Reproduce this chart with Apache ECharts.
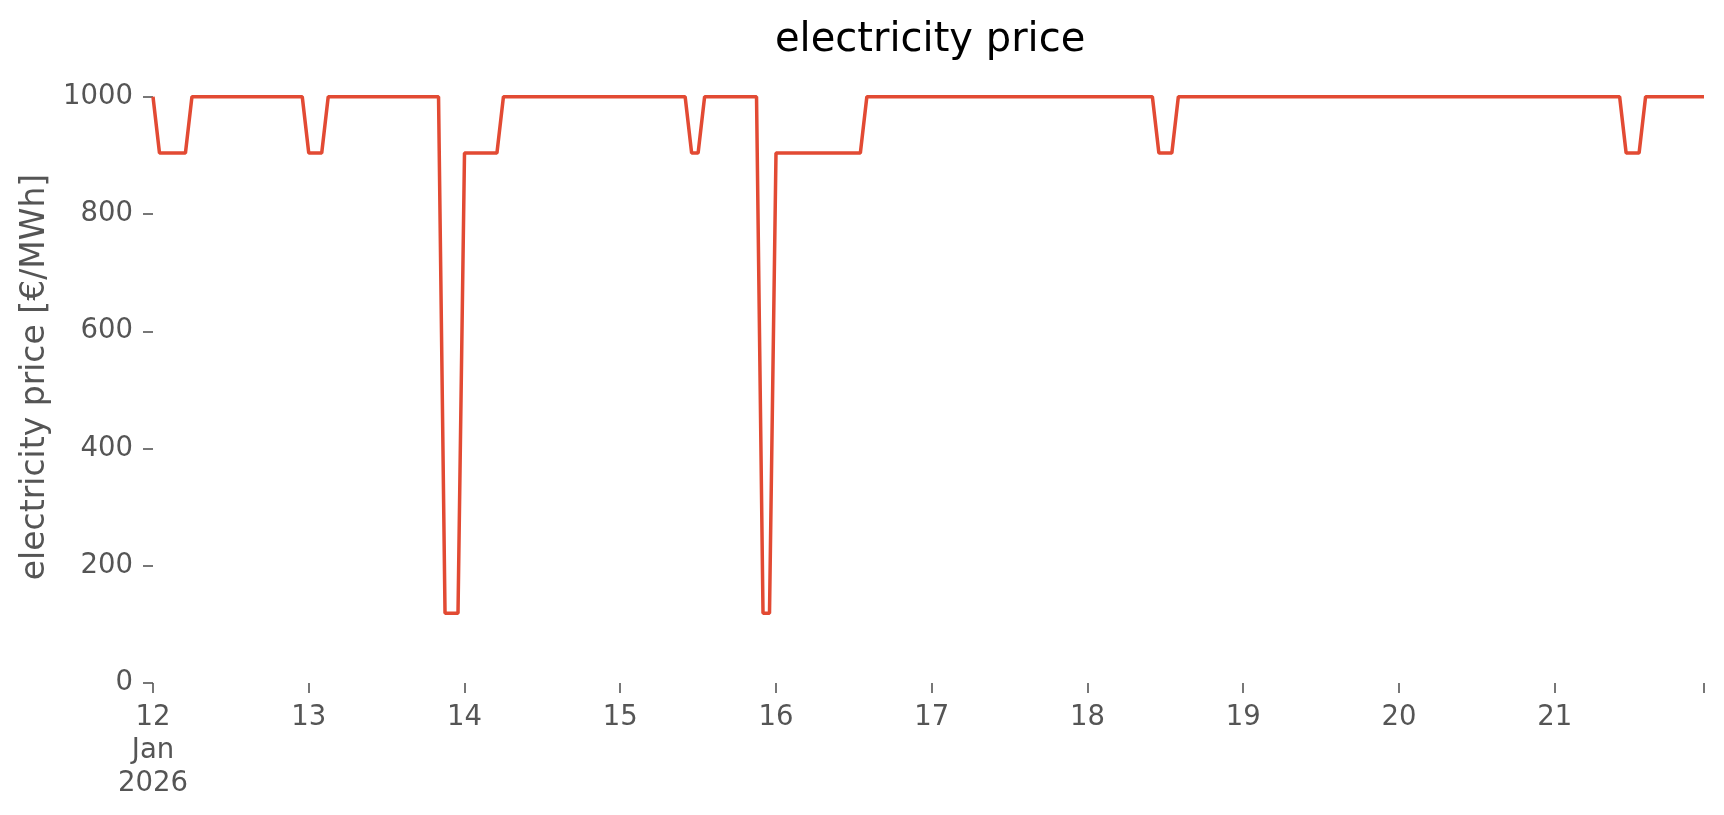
<!DOCTYPE html>
<html>
<head>
<meta charset="utf-8">
<script src="https://cdn.jsdelivr.net/npm/echarts@6/dist/echarts.min.js"></script>
<style>
  html, body { margin: 0; padding: 0; background: #ffffff; }
  #chart { width: 1724px; height: 815px; }
</style>
</head>
<body>
<div id="chart"></div>
<script>
// Hourly electricity price [€/MWh], one array per day (hours 00..23)
const jan12 = [1000, 904, 904, 904, 904, 904, 1000, 1000, 1000, 1000, 1000, 1000, 1000, 1000, 1000, 1000, 1000, 1000, 1000, 1000, 1000, 1000, 1000, 1000];
const jan13 = [904, 904, 904, 1000, 1000, 1000, 1000, 1000, 1000, 1000, 1000, 1000, 1000, 1000, 1000, 1000, 1000, 1000, 1000, 1000, 1000, 119, 119, 119];
const jan14 = [904, 904, 904, 904, 904, 904, 1000, 1000, 1000, 1000, 1000, 1000, 1000, 1000, 1000, 1000, 1000, 1000, 1000, 1000, 1000, 1000, 1000, 1000];
const jan15 = [1000, 1000, 1000, 1000, 1000, 1000, 1000, 1000, 1000, 1000, 1000, 904, 904, 1000, 1000, 1000, 1000, 1000, 1000, 1000, 1000, 1000, 119, 119];
const jan16 = [904, 904, 904, 904, 904, 904, 904, 904, 904, 904, 904, 904, 904, 904, 1000, 1000, 1000, 1000, 1000, 1000, 1000, 1000, 1000, 1000];
const jan17 = [1000, 1000, 1000, 1000, 1000, 1000, 1000, 1000, 1000, 1000, 1000, 1000, 1000, 1000, 1000, 1000, 1000, 1000, 1000, 1000, 1000, 1000, 1000, 1000];
const jan18 = [1000, 1000, 1000, 1000, 1000, 1000, 1000, 1000, 1000, 1000, 1000, 904, 904, 904, 1000, 1000, 1000, 1000, 1000, 1000, 1000, 1000, 1000, 1000];
const jan19 = [1000, 1000, 1000, 1000, 1000, 1000, 1000, 1000, 1000, 1000, 1000, 1000, 1000, 1000, 1000, 1000, 1000, 1000, 1000, 1000, 1000, 1000, 1000, 1000];
const jan20 = [1000, 1000, 1000, 1000, 1000, 1000, 1000, 1000, 1000, 1000, 1000, 1000, 1000, 1000, 1000, 1000, 1000, 1000, 1000, 1000, 1000, 1000, 1000, 1000];
const jan21 = [1000, 1000, 1000, 1000, 1000, 1000, 1000, 1000, 1000, 1000, 1000, 904, 904, 904, 1000, 1000, 1000, 1000, 1000, 1000, 1000, 1000, 1000, 1000];

// x tick labels (one per day, at 00:00)
const dayLabels = ['12\nJan\n2026', '13', '14', '15', '16', '17', '18', '19', '20', '21'];
// y tick labels
const yTicks = [0, 200, 400, 600, 800, 1000];

const priceSeries = [].concat(jan12, jan13, jan14, jan15, jan16, jan17, jan18, jan19, jan20, jan21);
const points = priceSeries.map((v, i) => [i, v]);   // x = hours since 12 Jan 2026 00:00
const lastHour = priceSeries.length - 1;
const dayTickHours = dayLabels.map((_, i) => i * 24);

const FONT = 'DejaVu Sans';
const chart = echarts.init(document.getElementById('chart'), null, { renderer: 'canvas' });
chart.setOption({
  animation: false,
  backgroundColor: '#ffffff',
  title: {
    text: 'electricity price',
    left: 770,
    top: 16,
    textStyle: { fontFamily: FONT, fontSize: 40, fontWeight: 'normal', color: '#000000' }
  },
  grid: { left: 153, right: 20, top: 71, bottom: 132, containLabel: false },
  xAxis: {
    type: 'value',
    min: 0,
    max: lastHour,
    axisLine: { show: false },
    splitLine: { show: false },
    axisTick: {
      show: true,
      length: 10,
      lineStyle: { color: '#555555', width: 1.6 },
      customValues: dayTickHours.concat([lastHour])
    },
    axisLabel: {
      customValues: dayTickHours,
      margin: 18,
      fontFamily: FONT,
      fontSize: 27.5,
      lineHeight: 33,
      color: '#555555',
      align: 'center',
      formatter: function (v) { return dayLabels[Math.round(v / 24)]; }
    }
  },
  yAxis: {
    type: 'value',
    min: 0,
    max: 1044,
    name: 'electricity price [€/MWh]',
    nameLocation: 'middle',
    nameGap: 88,
    nameTextStyle: { fontFamily: FONT, fontSize: 33, color: '#555555' },
    axisLine: { show: false },
    splitLine: { show: false },
    axisTick: {
      show: true,
      length: 10,
      lineStyle: { color: '#555555', width: 1.6 },
      customValues: yTicks
    },
    axisLabel: {
      customValues: yTicks,
      margin: 20,
      fontFamily: FONT,
      fontSize: 27.5,
      color: '#555555',
      padding: [6, 0, 0, 0],
      formatter: function (v) { return String(v); }
    }
  },
  series: [{
    type: 'line',
    data: points,
    showSymbol: false,
    symbol: 'none',
    clip: false,
    lineStyle: { color: '#E24A33', width: 3.5 },
    itemStyle: { color: '#E24A33' }
  }]
});
</script>
</body>
</html>
